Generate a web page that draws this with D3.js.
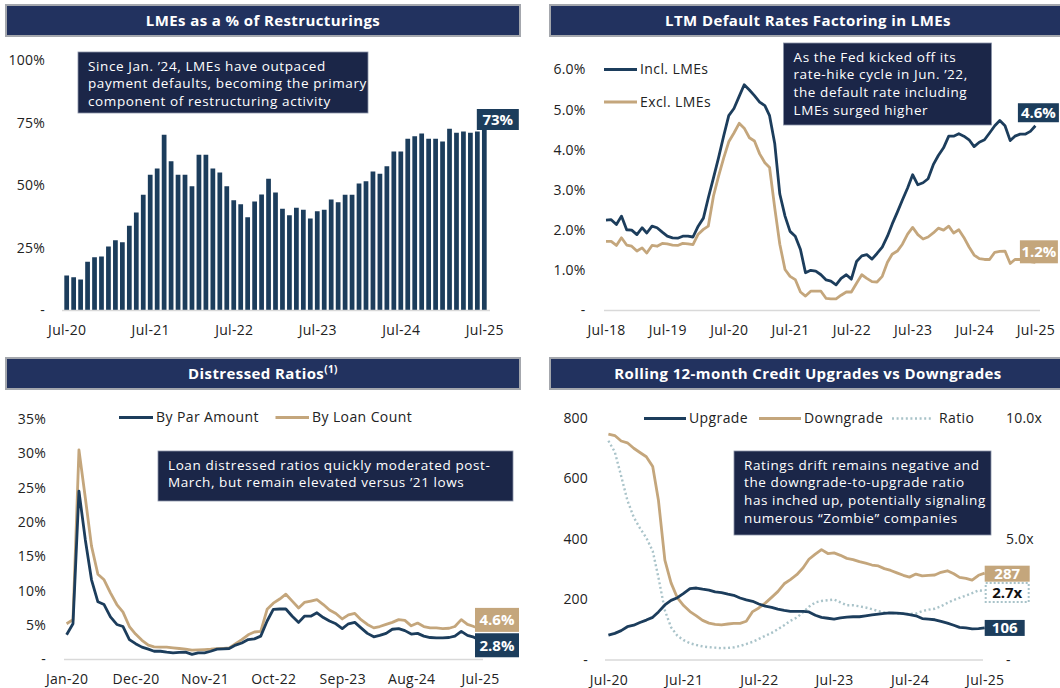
<!DOCTYPE html>
<html>
<head>
<meta charset="utf-8">
<script src="https://cdn.jsdelivr.net/npm/d3@7"></script>
<style>
  body { margin: 0; background: #fff; }
  svg { display: block; font-family: "Open Sans", "Liberation Sans", Arial, sans-serif; }
</style>
</head>
<body>
<svg id="chart" width="1060" height="688"></svg>
<script>
// ---- data ----
// LMEs as a % of Restructurings (monthly, Jul-20 .. Jul-25)
const lmeStart = 'Jul-20';
const lmeShare = [14, 13.3, 12.4, 19.5, 21.3, 21.6, 25.6, 28.1, 27.3, 33.9, 39.2, 46.3, 54.3, 56.8, 70.3, 59.7,
  54.3, 54.3, 49.7, 62.3, 62.3, 56.8, 55.2, 49.7, 44.1, 42.5, 37.3, 43.6, 46.4, 52.7, 47.2, 40.7, 38.1, 41.1,
  40.3, 36.8, 39.7, 40.3, 44.4, 43.3, 46.3, 46.3, 50.8, 51.7, 55.6, 54.7, 57.7, 63.6, 63.6, 68.7, 69.7, 70.8,
  68.7, 68.7, 67.6, 72.7, 71.1, 71.6, 71.1, 71.6, 73];
const lmeTicks = ['Jul-20', 'Jul-21', 'Jul-22', 'Jul-23', 'Jul-24', 'Jul-25'];
const lmeYTicks = [0, 25, 50, 75, 100];

// LTM default rates (monthly, Jul-18 .. Jul-25)
const ltmStart = 'Jul-18';
const inclLME = [2.25, 2.26, 2.14, 2.35, 2.01, 2.0, 1.89, 2.06, 1.93, 2.1, 2.06, 1.95, 1.85, 1.81, 1.8, 1.85,
  1.85, 1.83, 2.1, 2.3, 2.8, 3.3, 3.8, 4.35, 4.85, 5.03, 5.33, 5.62, 5.49, 5.35, 5.19, 5.1, 4.85, 4.15, 2.9,
  2.35, 1.97, 1.85, 1.52, 0.94, 1.0, 0.98, 0.89, 0.76, 0.73, 0.64, 0.8, 0.89, 0.78, 1.22, 1.36, 1.39, 1.28,
  1.42, 1.58, 1.85, 2.15, 2.45, 2.75, 3.05, 3.38, 3.13, 3.18, 3.28, 3.63, 3.86, 4.05, 4.34, 4.34, 4.4, 4.34,
  4.25, 4.08, 4.19, 4.25, 4.42, 4.6, 4.73, 4.6, 4.23, 4.34, 4.39, 4.39, 4.46, 4.6];
const exclLME = [1.72, 1.72, 1.62, 1.81, 1.63, 1.6, 1.48, 1.56, 1.43, 1.62, 1.6, 1.67, 1.66, 1.63, 1.62, 1.67,
  1.66, 1.64, 1.9, 2.02, 2.1, 2.85, 3.34, 3.8, 4.2, 4.42, 4.66, 4.54, 4.3, 4.22, 3.9, 3.68, 3.56, 2.55, 1.65,
  1.02, 0.85, 0.77, 0.46, 0.36, 0.48, 0.48, 0.48, 0.3, 0.29, 0.29, 0.38, 0.46, 0.46, 0.68, 0.89, 0.8, 0.72,
  0.71, 0.85, 1.2, 1.4, 1.48, 1.65, 1.9, 2.07, 1.89, 1.78, 1.83, 1.93, 2.05, 2.0, 2.1, 1.93, 2.01, 1.82, 1.58,
  1.38, 1.29, 1.27, 1.27, 1.45, 1.47, 1.48, 1.17, 1.27, 1.27, 1.25, 1.22, 1.2];
const ltmTicks = ['Jul-18', 'Jul-19', 'Jul-20', 'Jul-21', 'Jul-22', 'Jul-23', 'Jul-24', 'Jul-25'];
const ltmYTicks = [0, 1, 2, 3, 4, 5, 6];

// Distressed ratios (monthly, Jan-20 .. Jul-25)
const distStart = 'Jan-20';
const byPar = [3.6, 5.2, 24.5, 17.4, 11.6, 8.4, 8.0, 6.2, 5.1, 4.8, 2.9, 2.3, 1.8, 1.5, 1.2, 1.2, 1.07, 0.97,
  1.05, 1.07, 0.75, 0.95, 0.97, 1.2, 1.5, 1.55, 1.6, 2.1, 2.4, 2.9, 3.0, 3.4, 5.6, 7.3, 7.35, 7.35, 6.3, 5.4,
  6.3, 6.3, 6.8, 6.1, 5.6, 5.2, 4.5, 5.2, 5.4, 4.6, 3.8, 3.3, 3.5, 3.8, 4.4, 4.5, 4.2, 3.7, 3.8, 3.4, 3.2,
  3.15, 3.15, 3.2, 3.4, 4.1, 3.5, 3.25, 2.8];
const byCount = [5.2, 5.8, 30.5, 23.5, 16.5, 12.4, 11.6, 9.7, 8.0, 6.9, 4.8, 3.7, 2.8, 2.1, 1.85, 1.8, 1.8, 1.7,
  1.6, 1.5, 1.36, 1.4, 1.45, 1.5, 1.58, 1.63, 1.68, 2.3, 2.9, 3.6, 4.0, 4.1, 7.3, 8.2, 8.8, 9.5, 8.5, 7.5, 8.3,
  8.5, 8.7, 8.0, 7.2, 6.7, 5.9, 6.5, 6.7, 5.8, 5.1, 4.6, 4.8, 5.1, 5.4, 5.8, 5.7, 4.9, 5.3, 4.8, 4.6, 4.6, 4.5,
  4.55, 4.8, 5.8, 5.1, 4.8, 4.6];
const distTicks = ['Jan-20', 'Dec-20', 'Nov-21', 'Oct-22', 'Sep-23', 'Aug-24', 'Jul-25'];
const distYTicks = [0, 5, 10, 15, 20, 25, 30, 35];

// Rolling 12-month upgrades vs downgrades (monthly, Jul-20 .. Jul-25)
const rateStart = 'Jul-20';
const upgrades = [82, 88, 97, 110, 115, 124, 132, 141, 159, 182, 197, 206, 220, 236, 238, 234, 231, 225, 223,
  218, 214, 205, 199, 194, 185, 178, 174, 168, 164, 161, 161, 161, 159, 148, 141, 138, 135, 139, 142, 143, 143,
  146, 149, 152, 154, 156, 155, 153, 150, 146, 137, 135, 133, 128, 122, 115, 108, 106, 103, 104, 106];
const downgrades = [747, 742, 724, 718, 700, 686, 672, 640, 527, 330, 255, 205, 180, 160, 146, 131, 122, 118,
  116, 119, 121, 121, 128, 160, 172, 188, 207, 226, 252, 266, 282, 305, 333, 350, 365, 352, 354, 346, 336, 332,
  325, 320, 314, 311, 302, 296, 288, 280, 274, 284, 278, 280, 281, 290, 295, 285, 273, 270, 264, 280, 287];
const ratio = [9.06, 8.6, 7.6, 6.6, 5.9, 5.45, 5.05, 4.5, 3.4, 2.05, 1.35, 1.0, 0.82, 0.69, 0.62, 0.56, 0.53,
  0.51, 0.49, 0.5, 0.52, 0.58, 0.66, 0.75, 0.87, 1.0, 1.12, 1.27, 1.44, 1.62, 1.75, 1.98, 2.2, 2.38, 2.44, 2.47,
  2.5, 2.38, 2.26, 2.26, 2.22, 2.17, 2.1, 2.02, 1.97, 1.95, 1.93, 1.91, 1.9, 1.92, 2.02, 2.08, 2.12, 2.22, 2.36,
  2.48, 2.57, 2.66, 2.76, 2.88, 2.85];
const rateTicks = ['Jul-20', 'Jul-21', 'Jul-22', 'Jul-23', 'Jul-24', 'Jul-25'];
const rateYTicks = [0, 200, 400, 600, 800];
const ratioYTicks = [0, 5, 10];

// ---- styles ----
const NAVY = '#1c3d5c', TAN = '#c4a67c', HEAD = '#22325f', NOTE = '#1b2648',
      RATIO = '#a9c3c9', GRID = '#d9d9d9', INK = '#222';

const parse = d3.timeParse('%b-%y');
const fmtMonth = d3.timeFormat('%b-%y');
const months = (start, n) => d3.range(n).map(i => d3.timeMonth.offset(parse(start), i));

const svg = d3.select('#chart');

function header(x, y, w, title, sup) {
  svg.append('rect')
    .attr('x', x).attr('y', y).attr('width', w).attr('height', 31)
    .attr('fill', HEAD).attr('stroke', '#a4a7ad').attr('stroke-width', 2);
  const t = svg.append('text')
    .attr('x', x + w / 2).attr('y', y + 21)
    .attr('text-anchor', 'middle').attr('fill', '#fff')
    .attr('font-size', 15).attr('font-weight', 'bold')
    .attr('letter-spacing', 0.4)
    .text(title);
  if (sup) t.append('tspan').attr('font-size', 10).attr('dy', -6).text(sup);
}

function note(x, y, w, h, lines) {
  svg.append('rect')
    .attr('x', x).attr('y', y).attr('width', w).attr('height', h)
    .attr('fill', NOTE).attr('stroke', '#8a93a8').attr('stroke-width', 0.8);
  svg.append('g').selectAll('text').data(lines).join('text')
    .attr('x', x + 10).attr('y', (d, i) => y + 18.5 + i * 17.8)
    .attr('fill', '#fff').attr('font-size', 13.5)
    .attr('letter-spacing', 0.6)
    .text(d => d);
}

function tag(x, y, w, h, label, fill, color, dotted) {
  svg.append('rect')
    .attr('x', x).attr('y', y).attr('width', w).attr('height', h)
    .attr('fill', fill)
    .attr('stroke', dotted ? RATIO : 'none').attr('stroke-width', 2)
    .attr('stroke-dasharray', dotted ? '2 2' : null);
  svg.append('text')
    .attr('x', x + w / 2).attr('y', y + h / 2).attr('dy', '0.35em')
    .attr('text-anchor', 'middle').attr('fill', color)
    .attr('font-size', 15).attr('font-weight', 'bold')
    .text(label);
}

function yAxis(scale, ticks, fmt, x, right) {
  const axis = (right ? d3.axisRight(scale) : d3.axisLeft(scale))
    .tickValues(ticks).tickFormat(fmt).tickSize(0).tickPadding(0);
  svg.append('g')
    .attr('transform', `translate(${x},0)`)
    .call(axis)
    .call(g => g.select('.domain').remove())
    .attr('font-family', null).attr('font-size', 14)
    .selectAll('text').attr('fill', INK).attr('letter-spacing', 0.2);
}

function xAxis(scale, ticks, y) {
  svg.append('g')
    .attr('transform', `translate(0,${y})`)
    .call(d3.axisBottom(scale).tickValues(ticks.map(parse)).tickFormat(fmtMonth).tickSize(0).tickPadding(0))
    .call(g => g.select('.domain').remove())
    .attr('font-family', null).attr('font-size', 14)
    .selectAll('text').attr('fill', INK).attr('dy', '0.35em').attr('letter-spacing', 0.3);
}

function baseline(x0, x1, y) {
  svg.append('line')
    .attr('x1', x0).attr('x2', x1).attr('y1', y).attr('y2', y)
    .attr('stroke', GRID).attr('stroke-width', 1.5);
}

function series(dates, values, x, y, color, dash) {
  const line = d3.line().x((d, i) => x(dates[i])).y(d => y(d));
  svg.append('path')
    .datum(values)
    .attr('fill', 'none').attr('stroke', color)
    .attr('stroke-width', dash ? 2.4 : 2.8)
    .attr('stroke-dasharray', dash || null)
    .attr('stroke-linejoin', 'round')
    .attr('d', line);
}

function legendItem(x0, x1, y, label, color, dash) {
  svg.append('line')
    .attr('x1', x0).attr('x2', x1).attr('y1', y).attr('y2', y)
    .attr('stroke', color).attr('stroke-width', dash ? 2.4 : 3)
    .attr('stroke-dasharray', dash || null);
  svg.append('text')
    .attr('x', x1 + (dash ? 7 : 3)).attr('y', y).attr('dy', '0.35em')
    .attr('font-size', 14).attr('fill', INK).attr('letter-spacing', 0.4)
    .text(label);
}

const pct = d => d === 0 ? '-' : d + '%';
const pct1 = d => d === 0 ? '-' : d.toFixed(1) + '%';

// ---- panel 1: LMEs as a % of Restructurings ----
{
  header(6, 5, 514, 'LMEs as a % of Restructurings');
  const dates = months(lmeStart, lmeShare.length);
  const x = d3.scaleBand().domain(dates).range([63.2, 487.8]).paddingInner(0.32).paddingOuter(0.16);
  const y = d3.scaleLinear().domain([0, 100]).range([310.5, 60.5]);
  const xc = d => x(d) + x.bandwidth() / 2;

  svg.append('g').selectAll('rect').data(lmeShare).join('rect')
    .attr('x', (d, i) => x(dates[i]))
    .attr('y', d => y(d))
    .attr('width', x.bandwidth())
    .attr('height', d => y(0) - y(d))
    .attr('fill', NAVY);
  baseline(62, 490, y(0));

  yAxis(y, lmeYTicks, pct, 45);
  // month labels centred under their bars
  xAxis(d3.scaleOrdinal().domain(dates).range(dates.map(xc)), lmeTicks, 330);

  note(78, 52, 290, 61, [
    'Since Jan. \u201924, LMEs have outpaced',
    'payment defaults, becoming the primary',
    'component of restructuring activity'
  ]);
  const last = lmeShare.length - 1;
  tag(xc(dates[last]) - 7.5, y(lmeShare[last]) - 19, 42, 21, lmeShare[last] + '%', NAVY, '#fff');
}

// ---- panel 2: LTM Default Rates ----
{
  header(550, 5, 516, 'LTM Default Rates Factoring in LMEs');
  const dates = months(ltmStart, inclLME.length);
  const x = d3.scaleTime().domain([parse('Jul-18'), parse('Jul-25')]).range([606, 1035.4]);
  const y = d3.scaleLinear().domain([0, 6]).range([310.5, 69.5]);

  baseline(604, 1040, y(0));
  series(dates, exclLME, x, y, TAN);
  series(dates, inclLME, x, y, NAVY);

  yAxis(y, ltmYTicks, pct1, 585.5);
  xAxis(x, ltmTicks, 330);

  legendItem(604, 637, 69.5, 'Incl. LMEs', NAVY);
  legendItem(604, 637, 102, 'Excl. LMEs', TAN);

  note(783.5, 43, 208, 82, [
    'As the Fed kicked off its',
    'rate-hike cycle in Jun. \u201922,',
    'the default rate including',
    'LMEs surged higher'
  ]);
  const last = inclLME.length - 1, xe = x(dates[last]);
  tag(xe - 17.5, y(inclLME[last]) - 22.5, 41, 19, inclLME[last].toFixed(1) + '%', NAVY, '#fff');
  tag(xe - 15.5, y(exclLME[last]) - 22, 38, 23, exclLME[last].toFixed(1) + '%', TAN, '#fff');
}

// ---- panel 3: Distressed Ratios ----
{
  header(6, 358, 514, 'Distressed Ratios', '(1)');
  const dates = months(distStart, byPar.length);
  const x = d3.scaleTime().domain([parse('Jan-20'), parse('Jul-25')]).range([66.6, 480]);
  const y = d3.scaleLinear().domain([0, 35]).range([659.5, 419]);

  baseline(64, 483, y(0));
  series(dates, byCount, x, y, TAN);
  series(dates, byPar, x, y, NAVY);

  yAxis(y, distYTicks, pct, 46);
  xAxis(x, distTicks, 679);

  legendItem(119, 153, 417.5, 'By Par Amount', NAVY);
  legendItem(275.5, 309, 417.5, 'By Loan Count', TAN);

  note(158, 451, 355, 50, [
    'Loan distressed ratios quickly moderated post-',
    'March, but remain elevated versus \u201921 lows'
  ]);
  const last = byPar.length - 1, xe = x(dates[last]);
  tag(xe - 5, y(byCount[last]) - 20, 44, 24, byCount[last].toFixed(1) + '%', TAN, '#fff');
  tag(xe - 5, y(byPar[last]) - 7, 44, 24, byPar[last].toFixed(1) + '%', NAVY, '#fff');
}

// ---- panel 4: Rolling 12-month Credit Upgrades vs Downgrades ----
{
  header(550, 358, 516, 'Rolling 12-month Credit Upgrades vs Downgrades');
  const dates = months(rateStart, upgrades.length);
  const x = d3.scaleTime().domain([parse('Jul-20'), parse('Jul-25')]).range([608.4, 984.7]);
  const y = d3.scaleLinear().domain([0, 800]).range([660, 418]);
  const yr = d3.scaleLinear().domain([0, 10]).range([660, 418]);

  baseline(605, 983, y(0));
  series(dates, ratio, x, yr, RATIO, '2 2.6');
  series(dates, downgrades, x, y, TAN);
  series(dates, upgrades, x, y, NAVY);

  yAxis(y, rateYTicks, d => d === 0 ? '-' : d, 588);
  yAxis(yr, ratioYTicks, d => d === 0 ? '-' : d.toFixed(1) + 'x', 1006, true);
  xAxis(x, rateTicks, 680);

  legendItem(644, 686, 418.5, 'Upgrade', NAVY);
  legendItem(759, 801, 418.5, 'Downgrade', TAN);
  legendItem(892, 932, 418.5, 'Ratio', RATIO, '2 2.6');

  note(734, 451, 257, 84, [
    'Ratings drift remains negative and',
    'the downgrade-to-upgrade ratio',
    'has inched up, potentially signaling',
    'numerous \u201cZombie\u201d companies'
  ]);
  const last = upgrades.length - 1, xe = x(dates[last]);
  tag(xe, y(downgrades[last]) - 7.5, 45, 16, downgrades[last], TAN, '#fff');
  tag(xe + 1, yr(ratio[last]) - 8, 43, 19, '2.7x', '#fff', '#111', true);
  tag(xe, y(upgrades[last]) - 8, 40, 16, upgrades[last], NAVY, '#fff');
}
</script>
</body>
</html>
